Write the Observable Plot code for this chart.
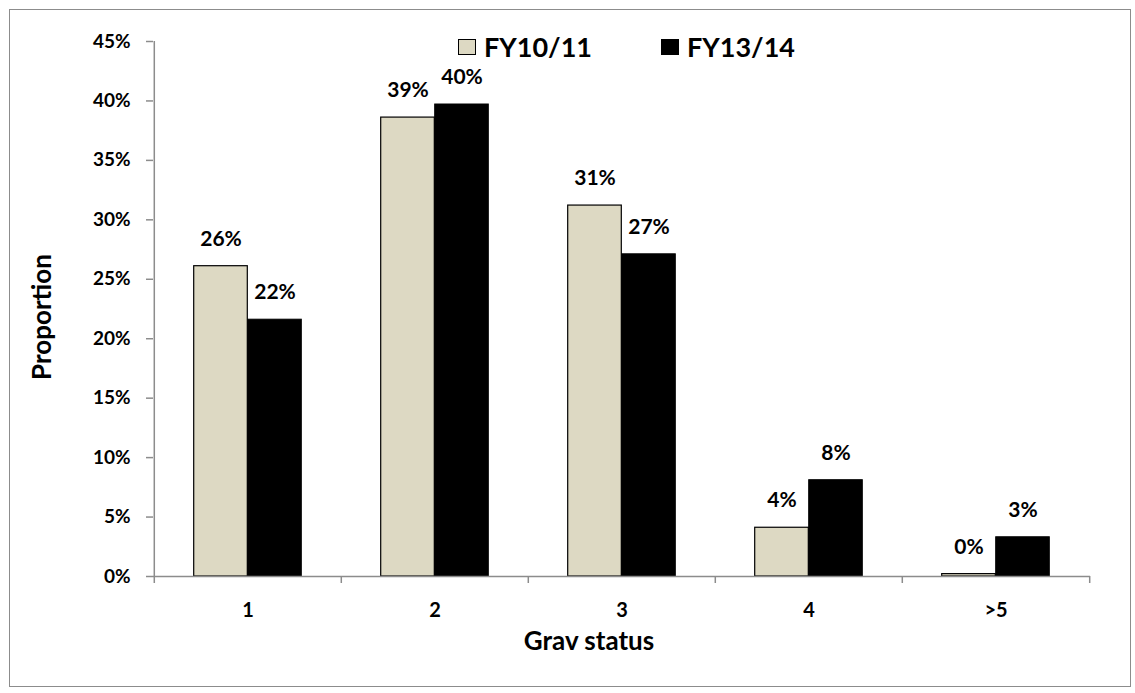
<!DOCTYPE html>
<html>
<head>
<meta charset="utf-8">
<script src="https://cdn.jsdelivr.net/npm/d3@7"></script>
<script src="https://cdn.jsdelivr.net/npm/@observablehq/plot@0.6"></script>
<style>
  html, body { margin: 0; padding: 0; background: #fff; }
  #wrap { position: relative; width: 1135px; height: 693px; font-family: Lato, "Open Sans", sans-serif; font-weight: bold; }
  #border { position: absolute; left: 9px; top: 9px; width: 1122px; height: 678px; border: 1.5px solid #8c8c8c; box-sizing: border-box; pointer-events: none; }
  .legend { position: absolute; top: 30px; display: flex; align-items: center; font-size: 27px; font-weight: bold; color: #000; }
  .sw { width: 18px; height: 16px; margin-right: 8px; box-sizing: border-box; }
  svg { position: absolute; left: 0; top: 0; }
</style>
</head>
<body>
<div id="wrap">
  <div id="border"></div>
</div>
<script>
const categories = ["1", "2", "3", "4", ">5"];
const seriesNames = ["FY10/11", "FY13/14"];
const fy1011 = [0.261, 0.386, 0.312, 0.041, 0.002];
const fy1314 = [0.216, 0.397, 0.271, 0.081, 0.033];
const yTicks = [0, 0.05, 0.10, 0.15, 0.20, 0.25, 0.30, 0.35, 0.40, 0.45];
const colors = ["#ddd9c3", "#000000"];

const rowsA = categories.map((c, i) => ({cat: c, series: seriesNames[0], value: fy1011[i]}));
const rowsB = categories.map((c, i) => ({cat: c, series: seriesNames[1], value: fy1314[i]}));
const pct = d3.format(".0%");
const axisGray = "#8c8c8c";

const W = 1135, H = 693, mL = 153, mR = 45, mT = 41, mB = 117;
const band = (W - mL - mR) / categories.length;
const half = band / 2;
const barW = 54;

const chart = Plot.plot({
  width: W, height: H,
  marginLeft: mL, marginRight: mR, marginTop: mT, marginBottom: mB,
  style: {fontFamily: "Lato, 'Open Sans', sans-serif", fontWeight: "bold", color: "#000", background: "transparent", overflow: "visible"},
  x: {domain: categories, padding: 0, axis: null},
  y: {domain: [0, 0.45], axis: null},
  marks: [
    Plot.barY(rowsA, {x: "cat", y: "value", fill: colors[0], stroke: "#000", strokeWidth: 1.2, insetLeft: half - barW, insetRight: half}),
    Plot.barY(rowsB, {x: "cat", y: "value", fill: colors[1], stroke: "#000", strokeWidth: 1, insetLeft: half, insetRight: half - barW}),
    Plot.ruleY([0], {stroke: axisGray, strokeWidth: 1.5}),
    Plot.ruleX([categories[0]], {x: d => d, dx: -half, stroke: axisGray, strokeWidth: 1.5, insetBottom: -7}),
    Plot.ruleX(categories.slice(1), {x: d => d, dx: -half, stroke: axisGray, strokeWidth: 1.5, insetTop: H - mT - mB, insetBottom: -7}),
    Plot.ruleX([categories[categories.length - 1]], {x: d => d, dx: half, stroke: axisGray, strokeWidth: 1.5, insetTop: H - mT - mB, insetBottom: -7}),
    Plot.axisY({ticks: yTicks, tickFormat: pct, tickSize: 7, tickPadding: 16, fontSize: 19, fontWeight: "bold", stroke: axisGray, strokeWidth: 1.5, fill: "#000", label: null}),
    Plot.axisX({tickSize: 0, tickPadding: 26, fontSize: 20, fontWeight: "bold", fill: "#000", label: null}),
    Plot.text(rowsA, {x: "cat", y: "value", text: d => pct(d.value), dx: -(barW / 2), dy: -27, fontSize: 21, fontWeight: "bold", fill: "#000", lineAnchor: "middle"}),
    Plot.text(rowsB, {x: "cat", y: "value", text: d => pct(d.value), dx: barW / 2, dy: -27, fontSize: 21, fontWeight: "bold", fill: "#000", lineAnchor: "middle"}),
    Plot.text(["Grav status"], {frameAnchor: "bottom", dy: 65, dx: -33, fontSize: 26, fontWeight: "bold", fill: "#000", lineAnchor: "middle", textAnchor: "middle"}),
    Plot.text(["Proportion"], {frameAnchor: "left", dx: -111, dy: 8, rotate: -90, fontSize: 26, fontWeight: "bold", fill: "#000", lineAnchor: "middle", textAnchor: "middle"})
  ]
});

const wrap = document.getElementById("wrap");
wrap.insertBefore(chart, wrap.firstChild);

const legendX = [458, 661];
seriesNames.forEach((name, i) => {
  const d = document.createElement("div");
  d.className = "legend";
  d.style.left = legendX[i] + "px";
  const sw = document.createElement("div");
  sw.className = "sw";
  sw.style.background = colors[i];
  sw.style.border = "1px solid #000";
  d.appendChild(sw);
  const t = document.createElement("span");
  t.textContent = name;
  d.appendChild(t);
  wrap.appendChild(d);
});
</script>
</body>
</html>
